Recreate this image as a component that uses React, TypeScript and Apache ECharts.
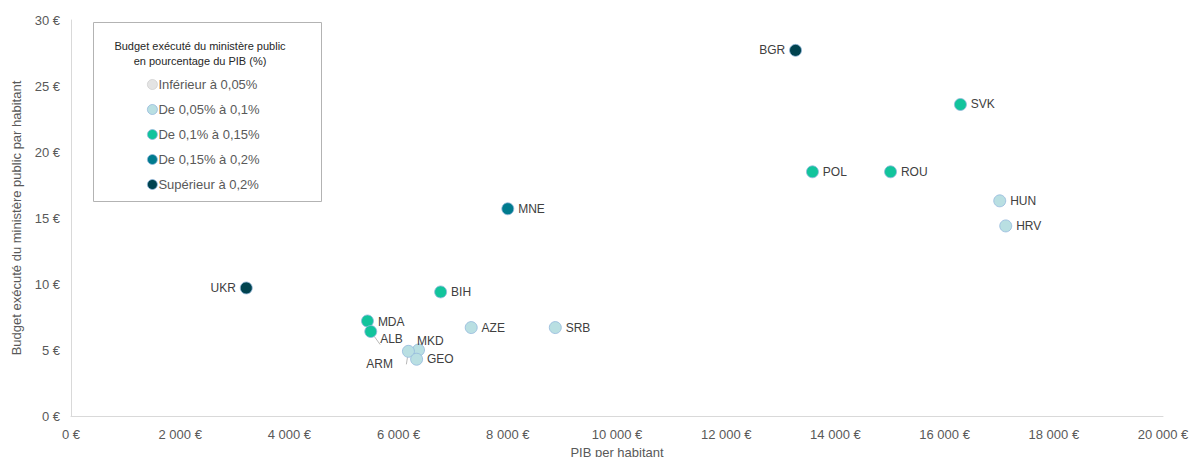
import React, { useEffect, useRef } from "react";
import * as echarts from "echarts";

const countries = ["BGR", "SVK", "POL", "ROU", "HUN", "HRV", "MNE", "UKR", "BIH", "MDA", "ALB", "AZE", "SRB", "MKD", "ARM", "GEO"];
const gdpPerCapita = [13270, 16290, 13580, 15010, 17010, 17120, 8000, 3210, 6770, 5430, 5490, 7330, 8870, 6365, 6180, 6330];
const budgetPerCapita = [27.7, 23.6, 18.5, 18.5, 16.3, 14.4, 15.7, 9.7, 9.4, 7.2, 6.4, 6.7, 6.7, 5.0, 4.9, 4.3];
// 0: < 0.05%, 1: 0.05-0.1%, 2: 0.1-0.15%, 3: 0.15-0.2%, 4: > 0.2%
const categoryIndex = [4, 2, 2, 2, 1, 1, 3, 4, 2, 2, 2, 1, 1, 1, 1, 1];
const categoryNames = ["Inférieur à 0,05%", "De 0,05% à 0,1%", "De 0,1% à 0,15%", "De 0,15% à 0,2%", "Supérieur à 0,2%"];
const categoryColors = ["#e4e4e4", "#b9dfe2", "#12c49c", "#007b8e", "#00434f"];
const xTicks = [0, 2000, 4000, 6000, 8000, 10000, 12000, 14000, 16000, 18000, 20000];
const yTicks = [0, 5, 10, 15, 20, 25, 30];

const labelPlacement: Record<string, any> = {
  BGR: { position: "left" },
  UKR: { position: "left" },
  MDA: { position: "right", offset: [0, 1] },
  MKD: { position: "right", offset: [-12, -9] },
  ALB: { position: "right", offset: [-1, 7], line: true },
  ARM: { position: "left", offset: [-5, 13], line: true },
};

const fmt = (v: number) => {
  const s = String(Math.round(v));
  return s.replace(/\B(?=(\d{3})+(?!\d))/g, " ") + " €";
};

export default function App() {
  const ref = useRef<HTMLDivElement>(null);
  useEffect(() => {
    document.body.style.margin = "0";
    document.documentElement.style.overflow = "hidden";
    document.body.style.overflow = "hidden";
    const chart = echarts.init(ref.current!, null, { renderer: "svg" });
    const font = "'Liberation Sans', Arial, sans-serif";
    const series = categoryNames.map((name, ci) => ({
      name,
      type: "scatter",
      symbol: "circle",
      symbolSize: 12,
      itemStyle: { color: categoryColors[ci], borderColor: "#93b8dc", borderWidth: 0.8, opacity: 1 },
      label: {
        show: true,
        position: "right",
        formatter: (p: any) => p.data.value[2],
        color: "#404040",
        fontSize: 12,
        fontFamily: font,
        distance: 4,
      },
      labelLine: { show: false },
      data: countries
        .map((c, i) => ({ c, i }))
        .filter(({ i }) => categoryIndex[i] === ci)
        .map(({ c, i }) => {
          const pl = labelPlacement[c];
          const item: any = { value: [gdpPerCapita[i], budgetPerCapita[i], c] };
          if (pl) {
            item.label = { position: pl.position, offset: pl.offset || [0, 0] };
            if (pl.line) {
              item.labelLine = { show: true, lineStyle: { color: "#a6a6a6", width: 0.8 }, length2: 0 };
            }
          }
          return item;
        }),
    }));

    chart.setOption({
      animation: false,
      textStyle: { fontFamily: font },
      grid: { left: 71, width: 1092, top: 20, height: 396, containLabel: false, outerBoundsMode: "none" },
      xAxis: {
        type: "value",
        min: xTicks[0],
        max: xTicks[xTicks.length - 1],
        interval: xTicks[1] - xTicks[0],
        name: "PIB per habitant",
        nameLocation: "middle",
        nameGap: 26,
        nameTextStyle: { color: "#595959", fontSize: 13, fontFamily: font },
        axisLine: { show: true, lineStyle: { color: "#d9d9d9", width: 1 } },
        axisTick: { show: false },
        splitLine: { show: false },
        axisLabel: { color: "#595959", fontSize: 13, margin: 12, formatter: fmt, fontFamily: font },
      },
      yAxis: {
        type: "value",
        min: yTicks[0],
        max: yTicks[yTicks.length - 1],
        interval: yTicks[1] - yTicks[0],
        name: "Budget exécuté du ministère public par habitant",
        nameLocation: "middle",
        nameGap: 48,
        nameTextStyle: { color: "#595959", fontSize: 13, fontFamily: font },
        axisLine: { show: true, lineStyle: { color: "#d9d9d9", width: 1 } },
        axisTick: { show: false },
        splitLine: { show: false },
        axisLabel: { color: "#595959", fontSize: 13, margin: 11, formatter: fmt, fontFamily: font },
      },
      legend: {
        orient: "vertical",
        left: 142,
        top: 73,
        itemWidth: 10,
        itemHeight: 10,
        itemGap: 12,
        icon: "circle",
        selectedMode: false,
        data: categoryNames.map((n, ci) => ({
          name: n,
          itemStyle: { color: categoryColors[ci], borderColor: ci === 0 ? "#cfcfcf" : "#93b8dc", borderWidth: 0.8 },
        })),
        textStyle: { color: "#595959", fontSize: 13, fontFamily: font, padding: [0, 0, 0, -4] },
      },
      graphic: [
        {
          type: "rect",
          shape: { x: 93.5, y: 22.5, width: 228, height: 179 },
          style: { fill: "none", stroke: "#b3b3b3", lineWidth: 1 },
          z: 0,
        },
        {
          type: "text",
          x: 200,
          y: 38,
          style: {
            text: "Budget exécuté du ministère public\nen pourcentage du PIB (%)",
            fontSize: 11,
            lineHeight: 15,
            fill: "#262626",
            align: "center",
            fontFamily: font,
          },
        },
      ],
      series,
    });
    return () => chart.dispose();
  }, []);
  return <div ref={ref} style={{ width: 1194, height: 457 }} />;
}
